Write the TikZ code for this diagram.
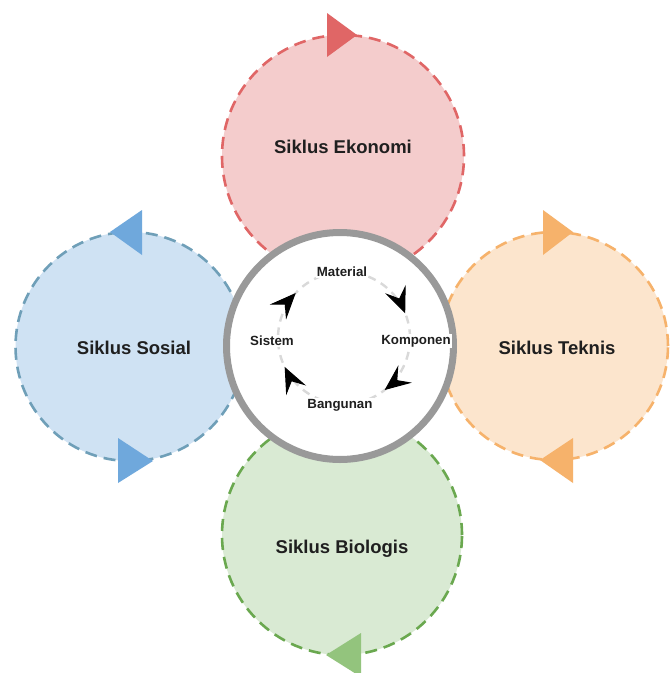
\documentclass[tikz,border=0pt]{standalone}
\usepackage{fontspec}
\setmainfont{Liberation Sans}
\usetikzlibrary{arrows.meta}
\definecolor{redfill}{HTML}{F4CCCC}
\definecolor{redline}{HTML}{E06666}
\definecolor{bluefill}{HTML}{CFE2F3}
\definecolor{blueline}{HTML}{6F9FB8}
\definecolor{bluetri}{HTML}{6FA8DC}
\definecolor{orfill}{HTML}{FCE5CD}
\definecolor{orline}{HTML}{F6B26B}
\definecolor{grfill}{HTML}{D9EAD3}
\definecolor{grline}{HTML}{6AA84F}
\definecolor{grtri}{HTML}{93C47D}
\begin{document}
\begin{tikzpicture}[x=1pt,y=-1pt,
  cyc/.style={circle,line width=2.6pt,dash pattern=on 12pt off 7pt,inner sep=0pt},
  big/.style={font=\fontsize{18.5}{21}\selectfont\bfseries,text=black!88},
  small/.style={font=\fontsize{13.3}{15}\selectfont\bfseries,text=black!88,fill=white,inner sep=1pt},
  tri/.style={draw=none}]
\useasboundingbox (0,0) rectangle (671,673);
\fill[white] (0,0) rectangle (671,673);
% outer cycles
\node[cyc,draw=redline,fill=redfill,minimum size=242pt] (eko) at (343,156) {};
\node[cyc,draw=blueline,fill=bluefill,minimum size=229pt] (sos) at (130,346.5) {};
\node[cyc,draw=orline,fill=orfill,minimum size=228pt] (tek) at (554,346) {};
\node[cyc,draw=grline,fill=grfill,minimum size=240pt] (bio) at (342,535) {};
% triangles
\fill[redline] (327,13) -- (357,35) -- (327,57) -- cycle;
\fill[bluetri] (142,210) -- (110,232) -- (142,255) -- cycle;
\fill[bluetri] (118,438) -- (153,461) -- (118,483) -- cycle;
\fill[orline] (543,210) -- (573,232) -- (543,255) -- cycle;
\fill[orline] (573,438) -- (540,460) -- (573,483) -- cycle;
\fill[grtri] (361,633) -- (326,655) -- (361,677) -- cycle;
% labels
\node[big] (teko) at (343,147) {Siklus Ekonomi};
\node[big] (tsos) at (134,348) {Siklus Sosial};
\node[big] (ttek) at (557,348) {Siklus Teknis};
\node[big] (tbio) at (342,549) {Siklus Biologis};
% centre
\node[circle,draw=black!40,fill=white,line width=7pt,minimum size=227pt,inner sep=0pt] (core) at (340,346) {};
\coordinate (c) at (344,338);
\draw[black!15,line width=2.4pt,dash pattern=on 8pt off 6pt] (c) circle[radius=66];
\foreach \a in {-137,-22,52,154}{
  \draw[black!15,line width=1pt,-{Stealth[black,length=26pt,width=22pt,inset=10pt]}]
    (c) ++(\a-16:66) arc[start angle=\a-16,end angle=\a,radius=66];
}
\node[small] (mat) at (342,272) {Material};
\node[small] (kom) at (416,341) {Komponen};
\node[small] (ban) at (340,405) {Bangunan};
\node[small] (sis) at (272,341) {Sistem};
\end{tikzpicture}
\end{document}
